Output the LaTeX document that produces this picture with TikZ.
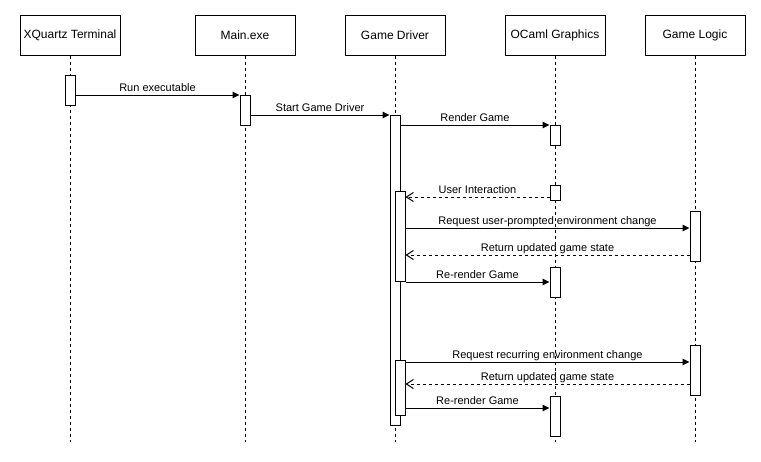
\documentclass[tikz,border=0pt]{standalone}
\usepackage{fontspec}
\setmainfont{Liberation Sans}
\usetikzlibrary{arrows.meta}

\begin{document}
\begin{tikzpicture}[x=1pt, y=-1pt, line width=1pt,
        head/.style={draw, minimum width=100pt, minimum height=40pt, font=\fontsize{12}{14}\selectfont},
        bar/.style={draw, fill=white, minimum width=10pt, inner sep=0pt, anchor=north},
        life/.style={dashed},
        msg/.style={-{Triangle[length=7pt,width=6.5pt]}},
        ret/.style={dashed, -{Straight Barb[length=7pt,width=9pt]}},
        lbl/.style={midway, anchor=base, yshift=4pt, inner sep=0pt, font=\fontsize{11}{13}\selectfont}]
    \useasboundingbox (0,0) rectangle (761,461);
            \node[head] (t) at (70,35) {XQuartz Terminal};
            \node[head] (m) at (245,35) {Main.exe};
            \node[head] (d) at (395,35) {Game Driver};
            \node[head] (o) at (555,35) {OCaml Graphics};
            \node[head] (l) at (695,35) {Game Logic};
            \foreach \n in {t,m,d,o,l}
                \draw[life] (\n.south) -- (\n.south |- 0,442);
            \node[bar, minimum height=30pt] (tA) at (70,75) {};
            \node[bar, minimum height=30pt] (mA) at (245,95) {};
            \node[bar, minimum height=310pt] (dA) at (395,115) {};
            \node[bar, minimum height=20pt] (oA1) at (555,125) {};
            \node[bar, minimum height=15pt] (oA2) at (555,185) {};
            \node[bar, minimum height=90pt] (dB) at (400,191) {};
            \node[bar, minimum height=50pt] (lA1) at (695,211) {};
            \node[bar, minimum height=30pt] (oA3) at (555,267) {};
            \node[bar, minimum height=50pt] (lA2) at (695,345) {};
            \node[bar, minimum height=55pt] (dC) at (400,360) {};
            \node[bar, minimum height=40pt] (oA4) at (555,396) {};
            \draw[msg] (tA.east |- mA.north) -- (mA.north west) node[lbl] {Run executable};
            \draw[msg] (mA.east |- dA.north) -- (dA.north west) node[lbl] {Start Game Driver};
            \draw[msg] (dA.east |- oA1.north) -- (oA1.north west) node[lbl] {Render Game};
            \draw[ret] (oA2.west |- 0,197) -- (dB.east |- 0,197) node[lbl] {User Interaction};
            \draw[msg] (dB.east |- 0,228) -- (lA1.west |- 0,228) node[lbl] {Request user-prompted environment change};
            \draw[ret] (lA1.west |- 0,255) -- (dB.east |- 0,255) node[lbl] {Return updated game state};
            \draw[msg] (dB.south east) -- (oA3.west |- dB.south) node[lbl] {Re-render Game};
            \draw[msg] (dC.east |- 0,362) -- (lA2.west |- 0,362) node[lbl] {Request recurring environment change};
            \draw[ret] (lA2.west |- 0,384) -- (dC.east |- 0,384) node[lbl] {Return updated game state};
            \draw[msg] (dC.east |- 0,408) -- (oA4.west |- 0,408) node[lbl] {Re-render Game};
    \end{tikzpicture}
\end{document}
